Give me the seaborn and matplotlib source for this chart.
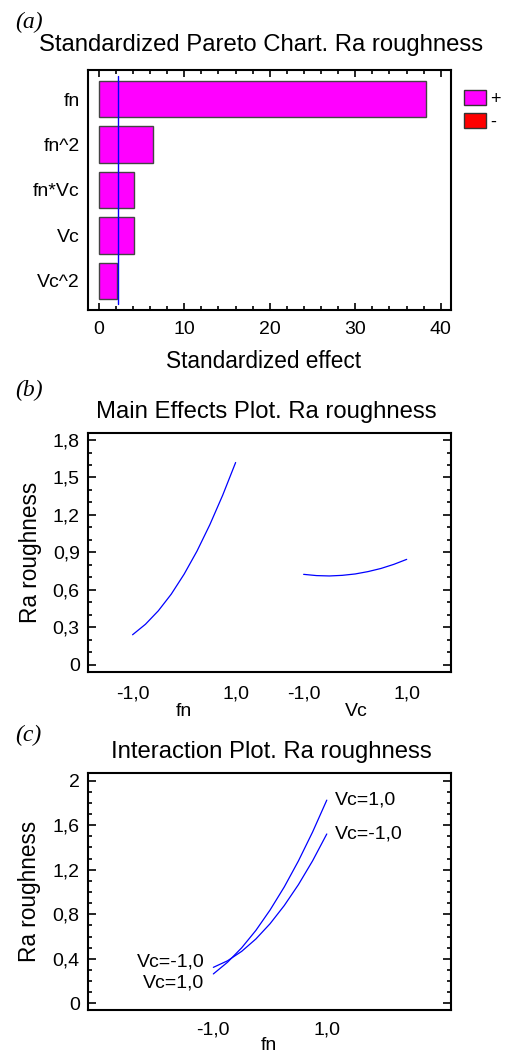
import numpy as np
import pandas as pd
import matplotlib
matplotlib.use("Agg")
import matplotlib.pyplot as plt
import seaborn as sns
from matplotlib.patches import Patch
from matplotlib.ticker import MultipleLocator, FuncFormatter

# --- data ---
terms = ["fn", "fn^2", "fn*Vc", "Vc", "Vc^2"]
effects = [38.3, 6.4, 4.15, 4.1, 2.1]
crit_effect = 2.2

levels = [-1.0, -0.75, -0.5, -0.25, 0.0, 0.25, 0.5, 0.75, 1.0]
main_fn = [0.24, 0.324, 0.432, 0.565, 0.725, 0.91, 1.122, 1.359, 1.62]
main_vc = [0.724, 0.714, 0.711, 0.716, 0.727, 0.746, 0.771, 0.804, 0.844]

inter_vc_pos = [0.264, 0.369, 0.499, 0.655, 0.838, 1.045, 1.279, 1.539, 1.825]
inter_vc_neg = [0.323, 0.382, 0.467, 0.578, 0.715, 0.878, 1.066, 1.28, 1.521]

W, H = 507, 1058
sns.set_style("ticks")
plt.rcParams["font.family"] = ["Liberation Sans", "DejaVu Sans"]
plt.rcParams["axes.unicode_minus"] = False
plt.rcParams["axes.linewidth"] = 1.5
for k in ["text.color", "axes.labelcolor", "xtick.color", "ytick.color", "axes.edgecolor"]:
    plt.rcParams[k] = "black"

fig = plt.figure(figsize=(W / 100, H / 100), dpi=100)


def fpos(l, t, r, b):
    return [l / W, 1 - b / H, (r - l) / W, (b - t) / H]


def ftxt(x, y, s, **kw):
    fig.text(x / W, 1 - y / H, s, **kw)


def comma(v, p):
    if abs(v - round(v)) < 1e-9:
        return str(int(round(v)))
    return f"{v:.1f}".replace(".", ",")


TICK = 14
LAB = 16.3
TIT = 17.2
serif_it = dict(family=["Liberation Serif", "DejaVu Serif"], style="italic", size=17)

# ---------- (a) Pareto chart ----------
ax1 = fig.add_axes(fpos(88, 70, 451, 310))
pareto = pd.DataFrame({"term": terms, "effect": effects})
sns.barplot(data=pareto, x="effect", y="term", orient="h", color="magenta",
            saturation=1, edgecolor="#444444", linewidth=1, width=0.8, ax=ax1)
ax1.axvline(crit_effect, ymin=0.025, ymax=0.975, color="blue", lw=1)
ax1.set_xlim(-1.25, 41.2)
ax1.set_ylim(4.64, -0.64)
ax1.xaxis.set_major_locator(MultipleLocator(10))
ax1.xaxis.set_minor_locator(MultipleLocator(2))
ax1.tick_params(axis="x", which="both", direction="in", top=True, labelsize=TICK, pad=8)
ax1.tick_params(axis="x", which="major", length=5, width=1.2)
ax1.tick_params(axis="x", which="minor", length=3, width=1.2)
ax1.tick_params(axis="y", length=0, labelsize=TICK, pad=6)
ax1.set_xlabel("")
ax1.set_ylabel("")
ax1.legend(handles=[Patch(facecolor="magenta", edgecolor="#333333"),
                    Patch(facecolor="red", edgecolor="#333333")],
           labels=["+", "-"], loc="upper left", bbox_to_anchor=(1.035, 0.915),
           frameon=False, fontsize=13, handlelength=1.22, handleheight=0.85,
           handletextpad=0.25, labelspacing=0.3, borderpad=0, borderaxespad=0)
ftxt(15, 22, "(a)", ha="left", va="center", **serif_it)
ftxt(261, 45, "Standardized Pareto Chart. Ra roughness", ha="center", va="center", size=TIT)
ftxt(263, 362, "Standardized effect", ha="center", va="center", size=LAB)

# ---------- (b) Main effects ----------
ax2 = fig.add_axes(fpos(88, 433.3, 451, 671.7))
shift = 3.32
main = pd.DataFrame({
    "pos": levels + [v + shift for v in levels],
    "Ra": main_fn + main_vc,
    "factor": ["fn"] * len(levels) + ["Vc"] * len(levels),
})
sns.lineplot(data=main, x="pos", y="Ra", units="factor", estimator=None,
             color="blue", lw=0.9, ax=ax2)
ax2.set_xlim(-1.865, 5.18)
ax2.set_ylim(-0.056, 1.854)
ax2.set_xticks([-1, 1, -1 + shift, 1 + shift])
ax2.set_xticklabels(["-1,0", "1,0", "-1,0", "1,0"])
ax2.yaxis.set_major_locator(MultipleLocator(0.3))
ax2.yaxis.set_minor_locator(MultipleLocator(0.1))
ax2.yaxis.set_major_formatter(FuncFormatter(comma))
ax2.tick_params(axis="x", length=0, labelsize=TICK, pad=10)
ax2.tick_params(axis="y", which="both", direction="in", right=True, labelsize=TICK, pad=6, width=1.2)
ax2.tick_params(axis="y", which="major", length=6)
ax2.tick_params(axis="y", which="minor", length=3)
ax2.set_xlabel("")
ax2.set_ylabel("Ra roughness", size=LAB, labelpad=8)
ftxt(15, 390, "(b)", ha="left", va="center", **serif_it)
ftxt(266, 412, "Main Effects Plot. Ra roughness", ha="center", va="center", size=TIT)
ftxt(184, 712, "fn", ha="center", va="center", size=TICK)
ftxt(356, 712, "Vc", ha="center", va="center", size=TICK)

# ---------- (c) Interaction ----------
ax3 = fig.add_axes(fpos(88, 773.3, 451, 1010))
inter = pd.DataFrame({
    "fn": levels + levels,
    "Ra": inter_vc_neg + inter_vc_pos,
    "Vc": ["Vc=-1,0"] * len(levels) + ["Vc=1,0"] * len(levels),
})
sns.lineplot(data=inter, x="fn", y="Ra", hue="Vc", palette=["blue", "blue"],
             estimator=None, lw=0.9, legend=False, ax=ax3)
ax3.set_xlim(-3.21, 3.19)
ax3.set_ylim(-0.06, 2.066)
ax3.set_xticks([-1, 1])
ax3.set_xticklabels(["-1,0", "1,0"])
ax3.yaxis.set_major_locator(MultipleLocator(0.4))
ax3.yaxis.set_minor_locator(MultipleLocator(0.1))
ax3.yaxis.set_major_formatter(FuncFormatter(comma))
ax3.tick_params(axis="x", length=0, labelsize=TICK, pad=8)
ax3.tick_params(axis="y", which="both", direction="in", right=True, labelsize=TICK, pad=6, width=1.2)
ax3.tick_params(axis="y", which="major", length=6)
ax3.tick_params(axis="y", which="minor", length=3)
ax3.set_xlabel("")
ax3.set_ylabel("Ra roughness", size=LAB, labelpad=8)
ftxt(269, 1046, "fn", ha="center", va="center", size=TICK)

ax3.annotate("Vc=1,0", (levels[-1], inter_vc_pos[-1]), xytext=(6, 0),
             textcoords="offset points", ha="left", va="center", size=TICK)
ax3.annotate("Vc=-1,0", (levels[-1], inter_vc_neg[-1]), xytext=(6, 0),
             textcoords="offset points", ha="left", va="center", size=TICK)
ax3.annotate("Vc=-1,0", (levels[0], inter_vc_neg[0]), xytext=(-6.5, 3.6),
             textcoords="offset points", ha="right", va="center", size=TICK)
ax3.annotate("Vc=1,0", (levels[0], inter_vc_pos[0]), xytext=(-6.5, -6.8),
             textcoords="offset points", ha="right", va="center", size=TICK)
ftxt(15, 735, "(c)", ha="left", va="center", **serif_it)
ftxt(271, 752, "Interaction Plot. Ra roughness", ha="center", va="center", size=TIT)

for ax in (ax1, ax2, ax3):
    for sp in ax.spines.values():
        sp.set_visible(True)
        sp.set_color("black")
        sp.set_linewidth(1.5)

fig.savefig("out.png", dpi=100)
